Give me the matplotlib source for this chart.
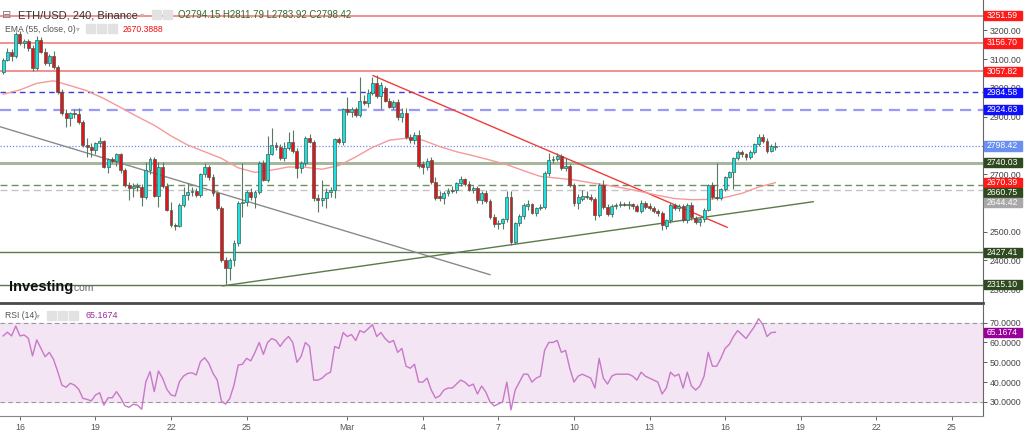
import numpy as np
import pandas as pd
import matplotlib
matplotlib.use("Agg")
import matplotlib.pyplot as plt
import matplotlib.dates as mdates
from matplotlib.patches import Rectangle

plt.rcParams['font.family'] = ['Liberation Sans', 'DejaVu Sans']

# --- data: ETH/USD 4h candles (Binance) ---
START = "2022-02-15 08:00"

opens = [
    3057, 3097, 3126, 3111, 3188, 3157, 3163, 3140, 3068, 3167,
    3126, 3086, 3111, 3074, 2987, 2914, 2895, 2912, 2908, 2883,
    2801, 2796, 2784, 2807, 2815, 2726, 2751, 2747, 2769, 2714,
    2662, 2650, 2659, 2654, 2622, 2714, 2754, 2625, 2726, 2659,
    2575, 2523, 2520, 2593, 2627, 2639, 2642, 2627, 2699, 2726,
    2691, 2633, 2581, 2401, 2372, 2401, 2459, 2598, 2602, 2639,
    2621, 2639, 2740, 2680, 2770, 2801, 2793, 2757, 2790, 2813,
    2782, 2720, 2740, 2825, 2813, 2616, 2610, 2617, 2639, 2645,
    2821, 2812, 2926, 2916, 2926, 2906, 2956, 2949, 2983, 3018,
    2972, 3000, 2956, 2935, 2952, 2898, 2912, 2828, 2819, 2836,
    2735, 2726, 2749, 2674, 2625, 2616, 2633, 2645, 2645, 2668,
    2682, 2666, 2645, 2651, 2610, 2633, 2608, 2552, 2526, 2530,
    2543, 2622, 2465, 2529, 2555, 2588, 2596, 2566, 2581, 2587,
    2703, 2749, 2753, 2763, 2720, 2728, 2662, 2598, 2615, 2625,
    2619, 2612, 2558, 2662, 2587, 2561, 2589, 2593, 2596, 2593,
    2596, 2589, 2573, 2600, 2590, 2581, 2573, 2564, 2521, 2540,
    2593, 2581, 2589, 2540, 2593, 2546, 2535, 2543, 2575, 2662,
    2622, 2618, 2647, 2691, 2709, 2757, 2778, 2769, 2758, 2778,
    2804, 2830, 2816, 2782, 2794.15,
]
highs = [
    3105, 3138, 3135, 3196, 3198, 3170, 3172, 3150, 3180, 3176,
    3140, 3118, 3130, 3080, 2995, 2925, 2915, 2925, 2930, 2890,
    2825, 2808, 2812, 2830, 2820, 2757, 2760, 2775, 2772, 2720,
    2674, 2668, 2668, 2665, 2743, 2761, 2761, 2743, 2743, 2668,
    2604, 2530, 2600, 2656, 2668, 2655, 2650, 2705, 2740, 2732,
    2700, 2640, 2590, 2410, 2408, 2470, 2605, 2738, 2645, 2650,
    2645, 2745, 2750, 2833, 2859, 2812, 2805, 2813, 2848, 2854,
    2790, 2745, 2833, 2840, 2820, 2630, 2680, 2650, 2655, 2825,
    2830, 2930, 2970, 2935, 2935, 3039, 2975, 2995, 3039, 3045,
    3020, 3005, 2965, 2958, 2960, 2930, 2930, 2840, 2848, 2852,
    2745, 2755, 2758, 2690, 2640, 2640, 2650, 2660, 2672, 2692,
    2688, 2675, 2658, 2660, 2640, 2645, 2615, 2560, 2540, 2548,
    2640, 2640, 2535, 2560, 2600, 2610, 2600, 2585, 2595, 2710,
    2772, 2762, 2775, 2770, 2755, 2735, 2670, 2630, 2645, 2640,
    2630, 2620, 2670, 2680, 2595, 2595, 2600, 2605, 2603, 2605,
    2600, 2595, 2610, 2605, 2598, 2590, 2580, 2570, 2545, 2600,
    2600, 2595, 2595, 2600, 2602, 2555, 2550, 2582, 2667, 2672,
    2738, 2650, 2695, 2712, 2760, 2785, 2785, 2775, 2785, 2808,
    2840, 2838, 2825, 2805, 2811.79,
]
lows = [
    3050, 3092, 3095, 3104, 3150, 3140, 3130, 3060, 3062, 3120,
    3080, 3078, 3066, 2980, 2905, 2863, 2866, 2895, 2875, 2795,
    2761, 2758, 2770, 2795, 2720, 2705, 2738, 2730, 2705, 2655,
    2610, 2620, 2640, 2589, 2615, 2700, 2620, 2587, 2650, 2570,
    2515, 2506, 2515, 2585, 2610, 2625, 2620, 2620, 2690, 2680,
    2625, 2575, 2395, 2318, 2330, 2380, 2450, 2552, 2590, 2610,
    2581, 2630, 2675, 2672, 2765, 2785, 2750, 2745, 2785, 2775,
    2685, 2705, 2730, 2808, 2605, 2569, 2590, 2581, 2620, 2616,
    2805, 2801, 2905, 2900, 2900, 2900, 2940, 2935, 2975, 2965,
    2925, 2950, 2930, 2925, 2890, 2880, 2822, 2810, 2805, 2720,
    2700, 2715, 2665, 2610, 2605, 2595, 2625, 2635, 2635, 2660,
    2660, 2640, 2635, 2600, 2595, 2600, 2545, 2515, 2508, 2510,
    2535, 2455, 2458, 2520, 2545, 2575, 2560, 2555, 2575, 2580,
    2695, 2740, 2745, 2715, 2712, 2655, 2590, 2580, 2605, 2612,
    2605, 2540, 2550, 2580, 2555, 2550, 2580, 2585, 2588, 2580,
    2580, 2568, 2565, 2580, 2575, 2565, 2555, 2505, 2510, 2530,
    2575, 2570, 2535, 2530, 2540, 2525, 2520, 2535, 2570, 2612,
    2610, 2610, 2640, 2685, 2647, 2750, 2760, 2750, 2752, 2770,
    2798, 2810, 2775, 2778, 2783.92,
]
closes = [
    3097, 3126, 3111, 3188, 3157, 3163, 3140, 3068, 3167, 3126,
    3086, 3111, 3074, 2987, 2914, 2895, 2912, 2908, 2883, 2801,
    2796, 2784, 2807, 2815, 2726, 2751, 2747, 2769, 2714, 2662,
    2652, 2659, 2654, 2622, 2714, 2754, 2625, 2726, 2659, 2575,
    2523, 2520, 2593, 2627, 2639, 2642, 2627, 2699, 2726, 2691,
    2633, 2581, 2401, 2372, 2401, 2459, 2598, 2602, 2639, 2621,
    2639, 2740, 2680, 2770, 2801, 2793, 2757, 2790, 2813, 2782,
    2720, 2740, 2825, 2813, 2616, 2610, 2617, 2639, 2645, 2821,
    2812, 2926, 2916, 2926, 2906, 2956, 2949, 2983, 3018, 2972,
    3010, 2956, 2935, 2952, 2898, 2912, 2828, 2819, 2836, 2728,
    2726, 2746, 2674, 2616, 2616, 2633, 2641, 2642, 2668, 2682,
    2666, 2645, 2651, 2610, 2633, 2608, 2552, 2526, 2530, 2543,
    2622, 2465, 2529, 2555, 2593, 2596, 2566, 2581, 2587, 2703,
    2749, 2753, 2763, 2720, 2728, 2662, 2598, 2622, 2625, 2619,
    2612, 2558, 2662, 2587, 2561, 2589, 2593, 2596, 2593, 2596,
    2589, 2573, 2600, 2587, 2581, 2573, 2564, 2523, 2540, 2593,
    2581, 2589, 2540, 2593, 2552, 2535, 2543, 2575, 2662, 2622,
    2618, 2647, 2691, 2709, 2757, 2778, 2769, 2758, 2778, 2804,
    2828, 2816, 2782, 2799, 2798.42,
]

# EMA(55) at every 4th candle
ema_idx = list(range(0, 185, 4))
ema_vals = [2978, 2993, 3016, 3025, 3008, 2990, 2963, 2932, 2900, 2870,
            2833, 2801, 2778, 2755, 2722, 2706, 2714, 2725, 2724, 2717,
            2730, 2760, 2793, 2818, 2825, 2818, 2796, 2778, 2764, 2749,
            2733, 2712, 2692, 2686, 2680, 2670, 2661, 2651, 2639, 2626,
            2615, 2611, 2612, 2619, 2633, 2655, 2670.39]

rsi_vals = [
    63.3, 65.2, 63.3, 68.3, 63.3, 63.8, 62.1, 53.2, 61.3, 57.1,
    52.8, 55.0, 51.5, 45.3, 38.5, 37.4, 39.4, 38.5, 36.4, 31.8,
    31.3, 30.5, 33.5, 34.6, 28.4, 32.1, 32.1, 35.2, 32.1, 28.1,
    27.3, 28.8, 28.4, 26.3, 40.2, 45.3, 35.2, 45.6, 41.9, 36.4,
    33.5, 33.0, 40.2, 43.1, 44.4, 44.7, 43.6, 50.3, 52.3, 49.5,
    44.4, 41.1, 30.5, 28.9, 31.8, 38.5, 48.6, 49.0, 52.0, 50.7,
    55, 60, 54, 60, 62, 61, 58, 61, 63, 60,
    50, 53, 60, 58, 41, 41, 42, 44, 45, 58,
    57, 65, 63, 64, 61, 66, 65, 67, 69, 63,
    65, 62, 60, 61, 55, 57, 48, 47, 49, 40,
    40, 42, 36, 32, 33, 36, 37, 37, 39, 41,
    40, 38, 39, 34, 38, 35, 30, 28, 29, 30,
    40, 26, 36, 40, 44, 44, 40, 42, 43, 56,
    60, 60, 61, 55, 56, 47, 40, 43, 44, 43,
    42, 37, 52, 42, 39, 43, 44, 44, 44, 44,
    43, 41, 45, 43, 42, 41, 40, 34, 37, 45,
    43, 44, 37, 45, 38, 36, 38, 43, 55, 48,
    48, 52, 57, 59, 63, 66, 64, 62, 65, 68,
    72, 69, 63, 65, 65.1674,
]

# horizontal support / resistance levels
levels = [3251.59, 3156.70, 3057.82, 2984.58, 2924.63, 2798.42,
          2740.03, 2660.75, 2644.42, 2427.41, 2315.10]

# trendlines: (start, end) times and prices
trend_times = {
    'gray':  ["2022-02-15 05:00", "2022-03-06 16:00"],
    'red':   ["2022-03-02 00:30", "2022-03-16 02:00"],
    'green': ["2022-02-24 01:00", "2022-03-19 12:00"],
}
trend_prices = {
    'gray':  [2865, 2350],
    'red':   [3043, 2515],
    'green': [2311, 2604],
}

tick_dates = ["2022-02-16", "2022-02-19", "2022-02-22", "2022-02-25", "2022-03-01",
              "2022-03-04", "2022-03-07", "2022-03-10", "2022-03-13", "2022-03-16",
              "2022-03-19", "2022-03-22", "2022-03-25"]
tick_labels = ["16", "19", "22", "25", "Mar", "4", "7", "10", "13", "16", "19", "22", "25"]
price_ticks = [2300, 2400, 2500, 2600, 2700, 2800, 2900, 3000, 3100, 3200]
hidden_ticks = [2600, 2800]   # fully covered by price boxes in the original
rsi_ticks = [30, 40, 50, 60, 70]

# --- styles ---
level_colors = ['#f27b7b', '#f27b7b', '#f27b7b', '#3b3bd6', '#9a9af7', '#6f8cf0',
                '#a7b79c', '#6e8f5e', '#c4c4c4', '#5b7a4b', '#5b7a4b']
level_ls = ['-', '-', '-', (0, (4, 3)), (0, (5, 3)), (0, (1, 1.5)),
            '-', (0, (5, 3)), (0, (5, 3)), '-', '-']
level_lw = [1.2, 1.2, 1.2, 1.0, 1.6, 0.9, 2.2, 1.0, 1.0, 1.0, 1.0]
box_colors = ['#ff1a1a', '#ff1a1a', '#ff1a1a', '#1010ff', '#1010ff', '#6a8ff0',
              '#2f4a1f', '#2f4a1f', '#a8a8a8', '#2f4a1f', '#2f4a1f']
trend_colors = {'gray': '#8a8a8a', 'red': '#f03c3c', 'green': '#5b7a4b'}
UP, DOWN = '#1fe0e0', '#ea111b'

W, H = 1024, 430
fig = plt.figure(figsize=(W / 100, H / 100), dpi=100)


def fx(x):
    return x / W


def fy(y):
    return 1 - y / H


ax = fig.add_axes([0, fy(303), fx(983), 303 / H])
ax2 = fig.add_axes([0, fy(416), fx(983), (416 - 305) / H])

t = mdates.date2num(pd.date_range(START, periods=len(closes), freq="4h"))
o, h, l, c = map(np.asarray, (opens, highs, lows, closes))
up = c >= o

xlim = mdates.date2num(pd.to_datetime(["2022-02-15 05:00", "2022-03-26 05:50"]))
for a in (ax, ax2):
    a.set_xlim(*xlim)
    for s in ('top', 'left'):
        a.spines[s].set_visible(False)
    a.spines['right'].set_color('#666666')
    a.spines['right'].set_linewidth(0.8)
ax.set_ylim(2251.5, 3306)
ax2.set_ylim(22.9, 78.9)

# levels
for v, col, ls, lw in zip(levels, level_colors, level_ls, level_lw):
    ax.axhline(v, color=col, ls=ls, lw=lw, zorder=2)

# trendlines
for k in trend_times:
    ax.plot(mdates.date2num(pd.to_datetime(trend_times[k])), trend_prices[k],
            color=trend_colors[k], lw=1.0, zorder=2.5)

# EMA
ax.plot(t[ema_idx], ema_vals, color='#f59a9a', lw=1.0, zorder=2.6)

# candles
ax.vlines(t, l, h, color='#587a62', lw=0.8, zorder=3)
ax.bar(t, np.maximum(np.abs(c - o), 2.5), bottom=np.minimum(o, c), width=0.115,
       color=np.where(up, UP, DOWN), edgecolor='#3f5f4f', linewidth=0.5, zorder=4)

ax.spines['bottom'].set_color('#4a4a4a')
ax.spines['bottom'].set_linewidth(2.0)
ax.tick_params(axis='x', bottom=False, labelbottom=False)
ax.yaxis.tick_right()
ax.set_yticks(price_ticks)
ax.set_yticklabels(['' if v in hidden_ticks else f'{v:.2f}' for v in price_ticks])
ax.tick_params(axis='y', labelsize=6.3, colors='#444444', length=3, pad=2, width=0.6)

# RSI panel
ax2.axhspan(30, 70, color='#f3e5f3', zorder=1)
for v in (70, 30):
    ax2.axhline(v, color='#9a9a9a', ls=(0, (4, 3)), lw=0.8, zorder=2)
ax2.plot(t, rsi_vals, color='#c878c8', lw=1.0, zorder=3)
ax2.spines['bottom'].set_color('#888888')
ax2.spines['bottom'].set_linewidth(0.8)
ax2.yaxis.tick_right()
ax2.set_yticks(rsi_ticks)
ax2.set_yticklabels([f'{v:.4f}' for v in rsi_ticks])
ax2.tick_params(axis='y', labelsize=6.3, colors='#444444', length=3, pad=2, width=0.6)
ax2.set_xticks(mdates.date2num(pd.to_datetime(tick_dates)))
ax2.set_xticklabels(tick_labels)
ax2.tick_params(axis='x', labelsize=6.3, colors='#555555', length=3, pad=2, width=0.6)


# price boxes on the right axis
def price_box(a, items, fmt, gap=10):
    prev = None
    for v, col in sorted(items, key=lambda it: -it[0]):
        yd = a.transData.transform((xlim[0], v))[1]
        if prev is not None and prev - yd < gap:
            yd = prev - gap
        prev = yd
        fig.add_artist(Rectangle((983.5 / W, (yd - 4.7) / H), 38 / W, 9.4 / H,
                                 transform=fig.transFigure, color=col, zorder=10))
        fig.text(987 / W, yd / H, fmt.format(v), color='white', fontsize=6.2,
                 va='center', ha='left', zorder=11)


price_box(ax, list(zip(levels, box_colors)) + [(ema_vals[-1], '#ff1a1a')], '{:.2f}')
price_box(ax2, [(rsi_vals[-1], '#990099')], '{:.4f}')


# header texts
def icons(x0, y0, n):
    for k in range(n):
        fig.add_artist(Rectangle((fx(x0 + 11 * k), fy(y0 + 9)), 9 / W, 9 / H,
                                 transform=fig.transFigure, color='#e2e2e2', zorder=10))


fig.text(fx(2), fy(15), '⊟', fontsize=8, color='#777777', va='center', family='DejaVu Sans')
fig.text(fx(18), fy(15), 'ETH/USD, 240, Binance', fontsize=8, color='#333333', va='center')
fig.text(fx(140), fy(15), '▾', fontsize=6, color='#bbbbbb', va='center', family='DejaVu Sans')
icons(152, 10, 2)
fig.text(fx(178), fy(15), 'O2794.15 H2811.79 L2783.92 C2798.42', fontsize=6.9,
         color='#2f6b2f', va='center')

fig.text(fx(5), fy(29), 'EMA (55, close, 0)', fontsize=6.2, color='#555555', va='center')
fig.text(fx(76), fy(29), '▾', fontsize=5.5, color='#bbbbbb', va='center', family='DejaVu Sans')
icons(86, 24, 3)
fig.text(fx(123), fy(29), '2670.3888', fontsize=6.2, color='#ee1111', va='center')

fig.text(fx(5), fy(316), 'RSI (14)', fontsize=6.2, color='#555555', va='center')
fig.text(fx(36), fy(316), '▾', fontsize=5.5, color='#bbbbbb', va='center', family='DejaVu Sans')
icons(47, 311, 3)
fig.text(fx(85), fy(316), '65.1674', fontsize=6.4, color='#9c279c', va='center')

fig.text(fx(9), fy(287), 'Investing', fontsize=10.5, fontweight='bold', color='#111111', va='center')
fig.text(fx(71), fy(288), '.com', fontsize=7.5, color='#666666', va='center')

fig.savefig("out.png", dpi=100, facecolor='white')
